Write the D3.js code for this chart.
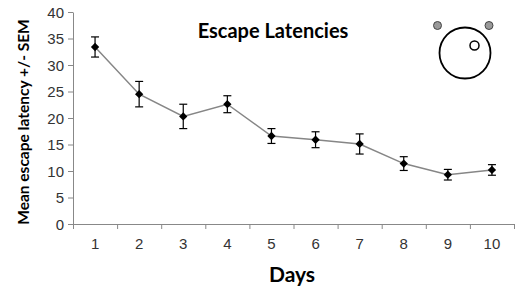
<!DOCTYPE html>
<html lang="en">
<head>
  <meta charset="UTF-8">
  <title>Escape Latencies</title>
  <script src="https://d3js.org/d3.v7.min.js"></script>
  <style>
    body { margin: 0; background: #fff; }
    svg { display: block; font-family: Lato, "Open Sans", sans-serif; }
    .tick text { fill: #333; font-size: 15px; }
    .axis path, .axis line { stroke: #888; }
  </style>
</head>
<body>
  <svg width="517" height="289"></svg>
  <script>
    const days = ["1", "2", "3", "4", "5", "6", "7", "8", "9", "10"];
    const means = [33.4, 24.5, 20.3, 22.6, 16.6, 15.9, 15.1, 11.4, 9.3, 10.2];
    const sems = [1.9, 2.4, 2.3, 1.6, 1.4, 1.5, 1.9, 1.3, 1.0, 1.0];
    const yTicks = [0, 5, 10, 15, 20, 25, 30, 35, 40];

    const svg = d3.select("svg");
    const margin = { left: 73, right: 3, top: 12, bottom: 65 };
    const width = 517 - margin.left - margin.right;
    const height = 289 - margin.top - margin.bottom;

    const chart = svg.append("g")
      .attr("transform", `translate(${margin.left},${margin.top})`);

    const x = d3.scaleBand().domain(days).range([0, width]);
    const y = d3.scaleLinear().domain([0, 40]).range([height, 0]);

    chart.append("g")
      .attr("class", "axis")
      .attr("transform", `translate(0,${height})`)
      .call(d3.axisBottom(x).tickSize(0).tickPadding(14))
      .call(g => g.select(".domain").attr("d", `M0,0.5H${width}`));

    // x tick marks sit on the band edges
    chart.append("g")
      .selectAll("line")
      .data(days.concat(["end"]))
      .join("line")
      .attr("x1", (d, i) => i * x.step() + 0.5)
      .attr("x2", (d, i) => i * x.step() + 0.5)
      .attr("y1", height)
      .attr("y2", height + 5)
      .attr("stroke", "#888");

    chart.append("g")
      .attr("class", "axis")
      .call(d3.axisLeft(y).tickValues(yTicks).tickSize(5).tickSizeOuter(0).tickPadding(4))
      .call(g => g.selectAll(".tick text").attr("dy", "0.36em"));

    const pts = days.map((d, i) => ({ day: d, mean: means[i], sem: sems[i] }));
    const cx = d => x(d.day) + x.bandwidth() / 2;

    chart.append("path")
      .datum(pts)
      .attr("fill", "none")
      .attr("stroke", "#868686")
      .attr("stroke-width", 1.5)
      .attr("d", d3.line().x(cx).y(d => y(d.mean)));

    const err = chart.append("g").attr("stroke", "#000").attr("stroke-width", 1.2);
    err.selectAll(".v").data(pts).join("line")
      .attr("x1", cx).attr("x2", cx)
      .attr("y1", d => y(d.mean + d.sem)).attr("y2", d => y(d.mean - d.sem));
    err.selectAll(".t").data(pts).join("line")
      .attr("x1", d => cx(d) - 4).attr("x2", d => cx(d) + 4)
      .attr("y1", d => y(d.mean + d.sem)).attr("y2", d => y(d.mean + d.sem));
    err.selectAll(".b").data(pts).join("line")
      .attr("x1", d => cx(d) - 4).attr("x2", d => cx(d) + 4)
      .attr("y1", d => y(d.mean - d.sem)).attr("y2", d => y(d.mean - d.sem));

    chart.selectAll(".pt").data(pts).join("path")
      .attr("d", d3.symbol(d3.symbolDiamond2, 44))
      .attr("transform", d => `translate(${cx(d)},${y(d.mean)})`)
      .attr("fill", "#000");

    svg.append("text")
      .attr("x", 273).attr("y", 38)
      .attr("text-anchor", "middle")
      .attr("font-size", 20).attr("font-weight", "bold")
      .text("Escape Latencies");

    svg.append("text")
      .attr("x", 292).attr("y", 282)
      .attr("text-anchor", "middle")
      .attr("font-size", 21).attr("font-weight", "bold")
      .text("Days");

    svg.append("text")
      .attr("transform", "translate(29,122) rotate(-90)")
      .attr("text-anchor", "middle")
      .attr("font-size", 15.5).attr("font-weight", "bold")
      .text("Mean escape latency +/- SEM");

    // pool icon
    const icon = svg.append("g");
    icon.append("circle").attr("cx", 465).attr("cy", 53).attr("r", 25.5)
      .attr("fill", "none").attr("stroke", "#000").attr("stroke-width", 1.8);
    icon.append("circle").attr("cx", 474.5).attr("cy", 45.5).attr("r", 4.5)
      .attr("fill", "#fff").attr("stroke", "#000").attr("stroke-width", 1.5);
    icon.selectAll(".cue").data([437.5, 489]).join("circle")
      .attr("cx", d => d).attr("cy", 25.5).attr("r", 4)
      .attr("fill", "#999").attr("stroke", "#444").attr("stroke-width", 1);
  </script>
</body>
</html>
